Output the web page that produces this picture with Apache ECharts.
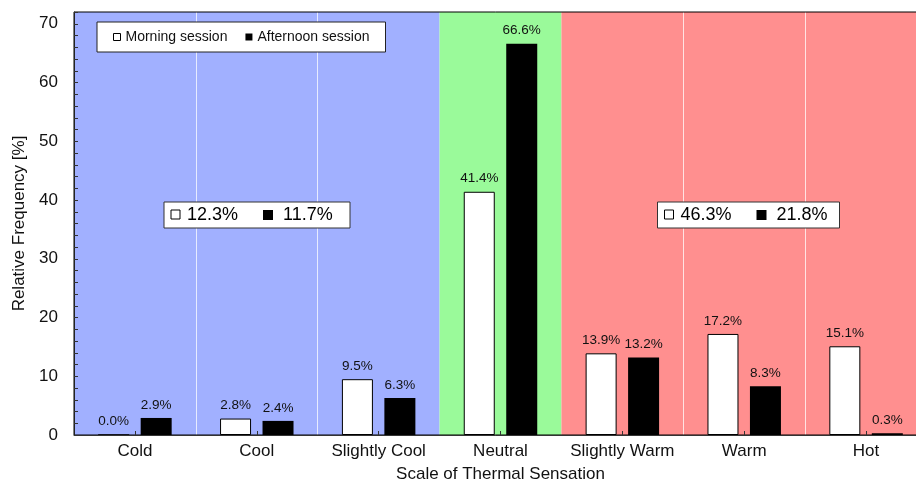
<!DOCTYPE html>
<html>
<head>
<meta charset="utf-8">
<script src="https://cdn.jsdelivr.net/npm/echarts@6/dist/echarts.min.js"></script>
<style>
  html, body { margin: 0; padding: 0; background: #fff; }
  #chart { width: 916px; height: 485px; }
</style>
</head>
<body>
<div id="chart"></div>
<script>
// Thermal sensation votes, relative frequency per session
const categories = ['Cold', 'Cool', 'Slightly Cool', 'Neutral', 'Slightly Warm', 'Warm', 'Hot'];
const morning = [0.0, 2.8, 9.5, 41.4, 13.9, 17.2, 15.1];
const afternoon = [2.9, 2.4, 6.3, 66.6, 13.2, 8.3, 0.3];
const yTicks = [0, 10, 20, 30, 40, 50, 60, 70];
// Share of votes on the cool side and on the warm side (morning, afternoon)
const coolShare = ['12.3%', '11.7%'];
const warmShare = ['46.3%', '21.8%'];
// Zones of the scale, in category units on a hidden value axis
const zones = [
  { from: 0, to: 3, color: '#a1b0ff' },
  { from: 3, to: 4, color: '#9afa9a' },
  { from: 4, to: 7, color: '#ff8f8f' }
];
const zoneDividers = [1, 2, 5, 6];

const FONT = '"Liberation Sans", Arial, Helvetica, sans-serif';
const chart = echarts.init(document.getElementById('chart'), null, { renderer: 'canvas' });

function shareBox(x, y, w, shares) {
  return {
    type: 'group',
    left: x,
    top: y,
    z: 20,
    children: [
      { type: 'rect', z: 20, shape: { x: 0, y: 0, width: w, height: 26 },
        style: { fill: '#fff', stroke: '#333', lineWidth: 1 } },
      { type: 'rect', z: 21, shape: { x: 7, y: 8, width: 9, height: 9 },
        style: { fill: '#fff', stroke: '#000', lineWidth: 1 } },
      { type: 'text', z: 21, x: 23, y: 13,
        style: { text: shares[0], fontSize: 18, fontFamily: FONT, fill: '#000', verticalAlign: 'middle' } },
      { type: 'rect', z: 21, shape: { x: 99, y: 8, width: 10, height: 10 },
        style: { fill: '#000' } },
      { type: 'text', z: 21, x: 119, y: 13,
        style: { text: shares[1], fontSize: 18, fontFamily: FONT, fill: '#000', verticalAlign: 'middle' } }
    ]
  };
}

const barLabel = {
  show: true,
  position: 'top',
  distance: 6,
  fontSize: 13.5,
  fontFamily: FONT,
  color: '#111',
  formatter: p => p.value.toFixed(1) + '%'
};

chart.setOption({
  animation: false,
  textStyle: { fontFamily: FONT },
  grid: {
    left: 74, top: 12, right: -11, bottom: 50, z: 5,
    outerBoundsMode: 'none',
    containLabel: false,
    show: true, borderColor: '#000', borderWidth: 1, backgroundColor: 'transparent'
  },
  legend: {
    left: 97, top: 22, z: 20,
    padding: [8, 16],
    backgroundColor: '#fff',
    borderColor: '#222',
    borderWidth: 1,
    itemWidth: 7, itemHeight: 7, itemGap: 18,
    icon: 'rect',
    textStyle: { fontSize: 14, fontFamily: FONT, color: '#111' },
    data: [
      { name: 'Morning session', itemStyle: { color: '#fff', borderColor: '#000', borderWidth: 1 } },
      { name: 'Afternoon session', itemStyle: { color: '#000' } }
    ]
  },
  xAxis: [
    {
      type: 'category',
      data: categories,
      z: 5,
      name: 'Scale of Thermal Sensation',
      nameLocation: 'middle',
      nameGap: 31,
      nameTextStyle: { fontSize: 17, color: '#111', fontFamily: FONT },
      axisLine: { lineStyle: { color: '#333', width: 1 } },
      axisTick: { show: true, inside: true, alignWithLabel: true, length: 4, lineStyle: { color: '#333' } },
      axisLabel: { fontSize: 17, color: '#111', margin: 8, fontFamily: FONT, interval: 0 },
      splitLine: { show: false }
    },
    {
      type: 'value', min: 0, max: 7, show: false
    }
  ],
  yAxis: {
    type: 'value',
    min: 0, max: 72, interval: 10,
    z: 5,
    name: 'Relative Frequency [%]',
    nameLocation: 'middle',
    nameGap: 44,
    nameTextStyle: { fontSize: 17, color: '#111', fontFamily: FONT },
    axisLine: { show: true, lineStyle: { color: '#222', width: 1 } },
    axisTick: { show: true, inside: true, length: 4, lineStyle: { color: '#333' } },
    minorTick: { show: true, splitNumber: 5, length: 4, lineStyle: { color: '#333' } },
    axisLabel: {
      fontSize: 17, color: '#111', margin: 16, fontFamily: FONT,
      formatter: v => (yTicks.indexOf(v) >= 0 ? String(v) : '')
    },
    splitLine: { show: false }
  },
  series: [
    {
      // zone backgrounds and the light dividers between categories
      type: 'line',
      xAxisIndex: 1,
      data: [],
      z: 0,
      silent: true,
      markArea: {
        silent: true,
        z: 0,
        data: zones.map(zn => [
          { xAxis: zn.from, itemStyle: { color: zn.color } },
          { xAxis: zn.to }
        ])
      },
      markLine: {
        silent: true,
        z: 1,
        symbol: 'none',
        label: { show: false },
        lineStyle: { color: 'rgba(255,255,255,0.75)', type: 'solid', width: 1 },
        data: zoneDividers.map(x => ({ xAxis: x }))
      }
    },
    {
      name: 'Morning session',
      type: 'bar',
      data: morning,
      barWidth: 31,
      barGap: '37%',
      itemStyle: { color: '#fff', borderColor: '#000', borderWidth: 1 },
      label: barLabel
    },
    {
      name: 'Afternoon session',
      type: 'bar',
      data: afternoon,
      barWidth: 31,
      barGap: '37%',
      itemStyle: { color: '#000' },
      label: barLabel
    }
  ],
  graphic: [
    shareBox(163.5, 201.5, 186, coolShare),
    shareBox(657, 201.5, 182, warmShare)
  ]
});
</script>
</body>
</html>
